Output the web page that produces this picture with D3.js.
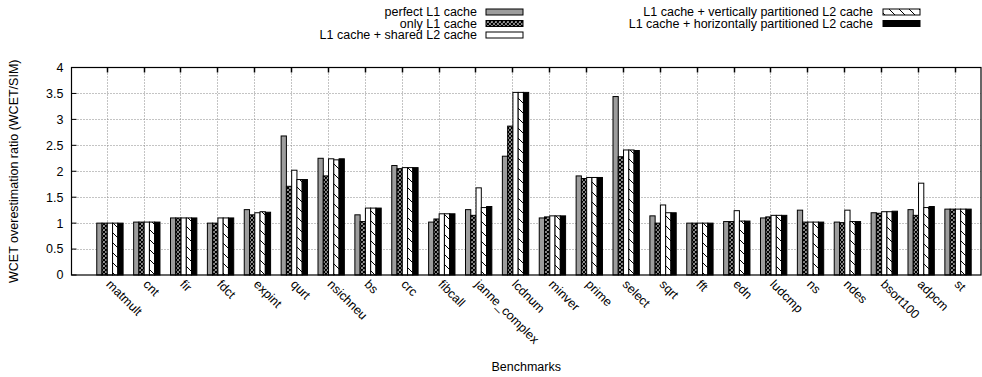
<!DOCTYPE html>
<html>
<head>
<meta charset="utf-8">
<script src="https://cdn.jsdelivr.net/npm/d3@7/dist/d3.min.js"></script>
<style>
  html, body { margin: 0; padding: 0; background: #fff; }
  svg { display: block; }
  text { font-family: "Liberation Sans", Arial, Helvetica, sans-serif; fill: #000; }
</style>
</head>
<body>
<svg id="chart" width="982" height="377"></svg>
<script>
// ---- data ----
const categories = ["matmult","cnt","fir","fdct","expint","qurt","nsichneu","bs","crc","fibcall",
  "janne_complex","lcdnum","minver","prime","select","sqrt","fft","edn","ludcmp","ns","ndes",
  "bsort100","adpcm","st"];
const seriesNames = ["perfect L1 cache","only L1 cache","L1 cache + shared L2 cache",
  "L1 cache + vertically partitioned L2 cache","L1 cache + horizontally partitioned L2 cache"];
const perfectL1 = [1.00,1.02,1.10,1.00,1.26,2.68,2.25,1.16,2.11,1.02,1.26,2.29,1.10,1.91,3.44,1.14,1.00,1.03,1.10,1.25,1.02,1.20,1.26,1.27];
const onlyL1    = [1.00,1.02,1.10,1.00,1.16,1.71,1.91,1.03,2.05,1.08,1.15,2.87,1.12,1.86,2.28,1.00,1.00,1.03,1.12,1.02,1.01,1.19,1.15,1.27];
const sharedL2  = [1.00,1.02,1.10,1.10,1.20,2.02,2.24,1.29,2.07,1.18,1.68,3.52,1.14,1.88,2.41,1.35,1.00,1.24,1.15,1.02,1.25,1.22,1.77,1.27];
const vertL2    = [1.00,1.02,1.10,1.10,1.22,1.84,2.22,1.29,2.07,1.18,1.30,3.52,1.14,1.88,2.41,1.20,1.00,1.04,1.15,1.02,1.03,1.22,1.30,1.27];
const horizL2   = [1.00,1.02,1.10,1.10,1.21,1.84,2.24,1.29,2.07,1.18,1.32,3.52,1.14,1.88,2.40,1.20,1.00,1.04,1.15,1.02,1.03,1.23,1.32,1.27];
const yTicks = [0,0.5,1,1.5,2,2.5,3,3.5,4];
const yTickLabels = ["0","0.5","1","1.5","2","2.5","3","3.5","4"];
const xTitle = "Benchmarks";
const yTitle = "WCET overestimation ratio (WCET/SIM)";

const seriesValues = [perfectL1, onlyL1, sharedL2, vertL2, horizL2];
const fills = ["url(#gray)", "url(#cross)", "#ffffff", "url(#hatch)", "#000000"];

// ---- layout ----
const plot = { left: 71.5, right: 981, top: 67.5, bottom: 275 };
const svg = d3.select("#chart");

// patterns
const defs = svg.append("defs");
defs.append("pattern").attr("id","gray").attr("patternUnits","userSpaceOnUse")
  .attr("width",4).attr("height",4)
  .append("rect").attr("width",4).attr("height",4).attr("fill","#9d9d9d");
const pc = defs.append("pattern").attr("id","cross").attr("patternUnits","userSpaceOnUse")
  .attr("width",4).attr("height",4);
pc.append("rect").attr("width",4).attr("height",4).attr("fill","#fff");
pc.append("path").attr("d","M0,0L4,4M4,0L0,4M-1,3L1,5M3,-1L5,1M3,5L5,3M-1,1L1,-1")
  .attr("stroke","#000").attr("stroke-width",1.4);
const ph = defs.append("pattern").attr("id","hatch").attr("patternUnits","userSpaceOnUse")
  .attr("width",10).attr("height",10);
ph.append("rect").attr("width",10).attr("height",10).attr("fill","#fff");
ph.append("path").attr("d","M0,0L10,10M-5,5L5,15M5,-5L15,5")
  .attr("stroke","#000").attr("stroke-width",1);

// scales
const x = d3.scaleLinear().domain([-0.955, 23.71]).range([plot.left, plot.right]);
const y = d3.scaleLinear().domain([0, 4]).range([plot.bottom, plot.top]);
const inner = d3.scaleBand().domain(d3.range(seriesNames.length))
  .range([-0.27, -0.27 + 5/7]).paddingInner(0);

// grid
const grid = svg.append("g").attr("stroke","#888").attr("stroke-width",1)
  .attr("stroke-dasharray","1,2");
grid.selectAll("line.h").data(yTicks.filter(t => t > 0 && t < 4)).join("line")
  .attr("x1", plot.left).attr("x2", plot.right)
  .attr("y1", d => Math.round(y(d)) + 0.5).attr("y2", d => Math.round(y(d)) + 0.5);
grid.selectAll("line.v").data(categories).join("line")
  .attr("x1", (d,i) => Math.round(x(i)) + 0.5).attr("x2", (d,i) => Math.round(x(i)) + 0.5)
  .attr("y1", plot.top).attr("y2", plot.bottom);

// bars
const bw = x(inner.bandwidth()) - x(0);
const gBars = svg.append("g");
seriesValues.forEach((vals, k) => {
  gBars.append("g").selectAll("rect").data(vals).join("rect")
    .attr("x", (d,i) => x(i + inner(k)))
    .attr("width", bw)
    .attr("y", d => y(d))
    .attr("height", d => y(0) - y(d))
    .attr("fill", fills[k])
    .attr("stroke", "#000").attr("stroke-width", 1);
});

// border
svg.append("rect").attr("x", plot.left).attr("y", plot.top)
  .attr("width", plot.right - plot.left).attr("height", plot.bottom - plot.top)
  .attr("fill","none").attr("stroke","#000").attr("stroke-width",1.2);

// top x ticks
svg.append("g").selectAll("line").data(categories).join("line")
  .attr("x1", (d,i) => Math.round(x(i)) + 0.5).attr("x2", (d,i) => Math.round(x(i)) + 0.5)
  .attr("y1", plot.top).attr("y2", plot.top + 5)
  .attr("stroke","#000").attr("stroke-width",1.5);
// y ticks
svg.append("g").selectAll("line").data(yTicks).join("line")
  .attr("x1", plot.left).attr("x2", plot.left + 5)
  .attr("y1", d => y(d)).attr("y2", d => y(d))
  .attr("stroke","#000").attr("stroke-width",1);

// y tick labels
svg.append("g").selectAll("text").data(yTicks).join("text")
  .attr("x", plot.left - 8).attr("y", d => y(d))
  .attr("dy", "0.35em").attr("text-anchor","end")
  .style("font-size","12.5px")
  .text((d,i) => yTickLabels[i]);

// x tick labels
svg.append("g").selectAll("text").data(categories).join("text")
  .attr("transform", (d,i) => `translate(${x(i) + 2},${plot.bottom + 7}) rotate(45)`)
  .attr("dy", "0.35em").attr("text-anchor","start")
  .style("font-size","12.5px")
  .text(d => d);

// axis titles
svg.append("text").attr("x", (plot.left + plot.right)/2).attr("y", 371)
  .attr("text-anchor","middle").style("font-size","12.5px").text(xTitle);
svg.append("text")
  .attr("transform", `translate(18,${(plot.top + plot.bottom)/2}) rotate(-90)`)
  .attr("text-anchor","middle").style("font-size","12.5px").text(yTitle);

// legend
const legendItems = [
  { k: 0, tx: 477, kx: 486, yy: 12 },
  { k: 1, tx: 477, kx: 486, yy: 23.5 },
  { k: 2, tx: 477, kx: 486, yy: 35 },
  { k: 3, tx: 873, kx: 883, yy: 12 },
  { k: 4, tx: 873, kx: 883, yy: 23.5 }
];
const lg = svg.append("g");
legendItems.forEach(it => {
  lg.append("text").attr("x", it.tx).attr("y", it.yy).attr("dy","0.35em")
    .attr("text-anchor","end").style("font-size","12.5px").text(seriesNames[it.k]);
  lg.append("rect").attr("x", it.kx).attr("y", it.yy - 3).attr("width", 37).attr("height", 6)
    .attr("fill", fills[it.k]).attr("stroke","#000").attr("stroke-width",1);
});
</script>
</body>
</html>
